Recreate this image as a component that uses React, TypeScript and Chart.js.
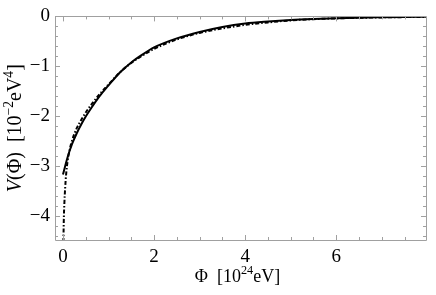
import React, { useEffect, useRef } from 'react';
import { Chart, registerables } from 'chart.js';
Chart.register(...registerables);

// Solid curve
const phiSolid = [0, 0.1, 0.2, 0.3, 0.4, 0.5, 0.6, 0.8, 1.0, 1.25, 1.5, 1.75, 2.0, 2.5, 3.0, 3.5, 4.0, 4.5, 5.0, 5.5, 6.0, 6.5, 7.0, 7.5, 8.0];
const vSolid = [-3.16, -2.82, -2.55, -2.34, -2.16, -2.0, -1.86, -1.6, -1.38, -1.12, -0.92, -0.76, -0.62, -0.44, -0.31, -0.21, -0.14, -0.1, -0.07, -0.05, -0.035, -0.025, -0.018, -0.012, -0.008];

// Dash-dotted curve
const phiDashed = [0.005, 0.01, 0.02, 0.03, 0.05, 0.07, 0.1, 0.15, 0.2, 0.3, 0.4, 0.5, 0.6, 0.8, 1.0, 1.25, 1.5, 1.75, 2.0, 2.5, 3.0, 3.5, 4.0, 4.5, 5.0, 5.5, 6.0, 6.5, 7.0, 7.5, 8.0];
const vDashed = [-4.7, -4.47, -4.0, -3.75, -3.4, -3.15, -2.9, -2.65, -2.48, -2.24, -2.07, -1.92, -1.79, -1.56, -1.36, -1.12, -0.93, -0.78, -0.65, -0.46, -0.33, -0.24, -0.17, -0.12, -0.08, -0.055, -0.04, -0.028, -0.02, -0.014, -0.01];

const xTickValues = [0, 2, 4, 6];
const yTickValues = [0, -1, -2, -3, -4];
const xMinorTicks = [0, 0.5, 1, 1.5, 2, 2.5, 3, 3.5, 4, 4.5, 5, 5.5, 6, 6.5, 7, 7.5];
const yMinorTicks = [0, -0.2, -0.4, -0.6, -0.8, -1, -1.2, -1.4, -1.6, -1.8, -2, -2.2, -2.4, -2.6, -2.8, -3, -3.2, -3.4, -3.6, -3.8, -4, -4.2, -4.4];

const SERIF = '"Liberation Serif", "Times New Roman", serif';
const FRAME = '#a0a0a0';

type Seg = { t: string; sup?: boolean; it?: boolean };

function drawRich(ctx: CanvasRenderingContext2D, segs: Seg[], size: number) {
  const supSize = size * 0.68;
  const fontFor = (s: Seg) => `${s.it ? 'italic ' : ''}${s.sup ? supSize : size}px ${SERIF}`;
  let total = 0;
  const widths = segs.map((s) => {
    ctx.font = fontFor(s);
    const w = ctx.measureText(s.t).width;
    total += w;
    return w;
  });
  let x = -total / 2;
  ctx.textBaseline = 'alphabetic';
  ctx.textAlign = 'left';
  segs.forEach((s, i) => {
    ctx.font = fontFor(s);
    ctx.fillText(s.t, x, s.sup ? -size * 0.42 : 0);
    x += widths[i];
  });
}

const xTitle: Seg[] = [{ t: 'Φ  [10' }, { t: '24', sup: true }, { t: 'eV]' }];
const yTitle: Seg[] = [{ t: 'V', it: true }, { t: '(Φ)  [10' }, { t: '−2', sup: true }, { t: 'eV' }, { t: '4', sup: true }, { t: ']' }];

const framePlugin = {
  id: 'frameTicks',
  afterDraw(chart: any) {
    const { ctx, chartArea: a, scales } = chart;
    const xs = scales.x;
    const ys = scales.y;
    ctx.save();
    ctx.strokeStyle = FRAME;
    ctx.lineWidth = 1;
    ctx.beginPath();
    ctx.rect(Math.round(a.left) + 0.5, Math.round(a.top) + 0.5, Math.round(a.right - a.left), Math.round(a.bottom - a.top));
    ctx.stroke();
    ctx.beginPath();
    xMinorTicks.forEach((v) => {
      const px = Math.round(xs.getPixelForValue(v)) + 0.5;
      const len = xTickValues.includes(v) ? 5 : 3;
      ctx.moveTo(px, a.bottom);
      ctx.lineTo(px, a.bottom - len);
      ctx.moveTo(px, a.top);
      ctx.lineTo(px, a.top + len);
    });
    yMinorTicks.forEach((v) => {
      const py = Math.round(ys.getPixelForValue(v)) + 0.5;
      const len = yTickValues.some((t) => Math.abs(t - v) < 1e-9) ? 5 : 3;
      ctx.moveTo(a.left, py);
      ctx.lineTo(a.left + len, py);
      ctx.moveTo(a.right, py);
      ctx.lineTo(a.right - len, py);
    });
    ctx.stroke();
    ctx.restore();

    ctx.save();
    ctx.fillStyle = '#000';
    ctx.translate((a.left + a.right) / 2 - 3, 282);
    drawRich(ctx, xTitle, 18);
    ctx.restore();

    ctx.save();
    ctx.fillStyle = '#000';
    ctx.translate(21, (a.top + a.bottom) / 2);
    ctx.rotate(-Math.PI / 2);
    drawRich(ctx, yTitle, 20);
    ctx.restore();
  },
};

const fmt = (v: number) => (v < 0 ? '−' + String(Math.abs(v)) : String(v));

export default function App() {
  const ref = useRef<HTMLCanvasElement>(null);
  useEffect(() => {
    if (!ref.current) return;
    const chart = new Chart(ref.current, {
      type: 'scatter',
      data: {
        datasets: [
          {
            data: phiSolid.map((x, i) => ({ x, y: vSolid[i] })),
            showLine: true,
            borderColor: '#000',
            borderWidth: 2,
            pointRadius: 0,
            cubicInterpolationMode: 'monotone',
          },
          {
            data: phiDashed.map((x, i) => ({ x, y: vDashed[i] })),
            showLine: true,
            borderColor: '#000',
            borderWidth: 2,
            borderDash: [4, 2, 1.5, 2],
            pointRadius: 0,
            cubicInterpolationMode: 'monotone',
          },
        ],
      } as any,
      options: {
        animation: false,
        responsive: false,
        devicePixelRatio: 1,
        layout: { padding: { top: 12, right: 10, left: 0, bottom: 0 } },
        plugins: { legend: { display: false }, tooltip: { enabled: false } },
        scales: {
          x: {
            type: 'linear',
            min: -0.175,
            max: 7.97,
            afterFit: (s: any) => { s.height = 55; },
            afterBuildTicks: (s: any) => { s.ticks = xTickValues.map((v) => ({ value: v })); },
            grid: { display: false, drawTicks: false },
            border: { display: false },
            ticks: { color: '#000', font: { family: SERIF, size: 19 }, padding: 6, maxRotation: 0, autoSkip: false, callback: (v: any) => fmt(Number(v)) },
          },
          y: {
            type: 'linear',
            min: -4.47,
            max: 0,
            afterFit: (s: any) => { s.width = 55; },
            afterBuildTicks: (s: any) => { s.ticks = yTickValues.map((v) => ({ value: v })); },
            grid: { display: false, drawTicks: false },
            border: { display: false },
            ticks: { color: '#000', font: { family: SERIF, size: 19 }, padding: 5, autoSkip: false, callback: (v: any) => fmt(Number(v)) },
          },
        },
      } as any,
      plugins: [framePlugin],
    });
    return () => chart.destroy();
  }, []);
  return (
    <div style={{ position: 'fixed', left: 0, top: 0, width: 436, height: 295, background: '#fff' }}>
      <canvas ref={ref} width={436} height={295} style={{ width: 436, height: 295, display: 'block' }} />
    </div>
  );
}
